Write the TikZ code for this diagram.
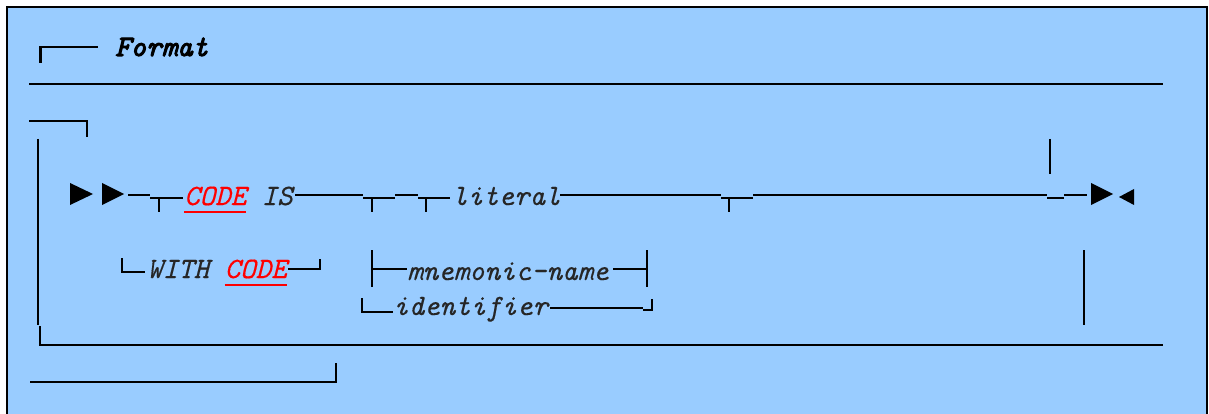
\documentclass[tikz,border=0pt]{standalone}
\usepackage{fontspec}
\newfontfamily\railfont[FakeBold=0.3]{Latin Modern Mono}
\newfontfamily\headfont[FakeBold=3.5]{Latin Modern Mono}
\usetikzlibrary{positioning}
\definecolor{panelblue}{RGB}{153,204,255}
\definecolor{keyred}{RGB}{255,0,0}

\begin{document}
\begin{tikzpicture}[x=1pt,y=-1pt,line cap=butt,line join=miter,
	rail/.style={line width=2.4pt},
	stem/.style={line width=1.8pt},
	word/.style={anchor=base west,inner sep=0pt,text=black!85,font=\fontsize{29.5}{34}\selectfont\railfont\itshape},
	keyword/.style={word,text=keyred},
	head/.style={word,text=black,font=\fontsize{29.5}{34}\selectfont\headfont\itshape}]
	\useasboundingbox (0,0) rectangle (1209,414);
	% panel
	\fill[panelblue] (7,7) rectangle (1207,414);
	\draw[line width=1.5pt] (7,414) -- (7,7) -- (1207,7) -- (1207,414);
	
	% heading
	\draw[rail] (40.5,63) -- (40.5,47) -- (98,47);
	\node[head] (fmt) at (115,56) {Format};
	\draw[rail] (29,84) -- (1163,84);
	
	% outer frame of the diagram
	\draw[rail] (29,121) -- (87,121) -- (87,137);
	\draw[rail] (38,139) -- (38,325);
	\draw[rail] (40,326) -- (40,345) -- (1163,345);
	\draw[rail] (30,382) -- (336,382) -- (336,363);
	
	% main line
	\fill (70,183) -- (93,194) -- (70,205) -- cycle;
	\fill (102,183) -- (124,194) -- (102,205) -- cycle;
	\draw[rail] (128,195) -- (150,195);
	\draw[rail] (150,198) -- (183,198);
	\draw[stem] (159,198) -- (159,212);
	\node[keyword] (code) at (184,205) {CODE};
	\node[word] (is) at (261.5,205) {IS};
	\draw[keyred,line width=1.3pt] ([yshift=-7pt]code.base west) -- ([yshift=-7pt]code.base east);
	\draw[rail] (295,195) -- (363,195);
	\draw[rail] (363,198) -- (395,198);
	\draw[stem] (372,198) -- (372,212);
	\draw[rail] (395,195) -- (418,195);
	\draw[rail] (418,198) -- (450,198);
	\draw[stem] (426,198) -- (426,212);
	\node[word] (literal) at (452,205) {literal};
	\draw[rail] (560,195) -- (721,195);
	\draw[rail] (721,198) -- (753,198);
	\draw[stem] (729,198) -- (729,212);
	\draw[rail] (753,195) -- (1047,195);
	\draw[rail] (1047,198) -- (1064,198);
	\draw[stem] (1050,139) -- (1050,174);
	\draw[rail] (1064,195) -- (1087,195);
	\fill (1091,183) -- (1113,194) -- (1091,205) -- cycle;
	\fill (1134,189) -- (1119,197) -- (1134,205) -- cycle;
	
	% WITH CODE branch
	\draw[stem] (122,258) -- (122,272) -- (145,272);
	\node[word] (with) at (147,278) {WITH};
	\node[keyword] (code2) at (224.5,278) {CODE};
	\draw[keyred,line width=1.3pt] ([yshift=-7pt]code2.base west) -- ([yshift=-7pt]code2.base east);
	\draw[rail] (288,269) -- (320,269) -- (320,259);
	
	% mnemonic-name / identifier
	\draw[line width=2.8pt] (372,250) -- (372,287);
	\draw[rail] (372,269) -- (407,269);
	\node[word] (mnem) at (407,280) {mnemonic-name};
	\draw[rail] (613,269) -- (648,269);
	\draw[line width=2.8pt] (647,250) -- (647,287);
	\draw[stem] (362,298) -- (362,312) -- (393,312);
	\node[word] (ident) at (393,315) {identifier};
	\draw[rail] (550,308) -- (643,308);
	\draw[stem] (643,310) -- (652,310) -- (652,299);
	\draw[line width=2pt] (1083.5,250) -- (1083.5,325);
\end{tikzpicture}
\end{document}
